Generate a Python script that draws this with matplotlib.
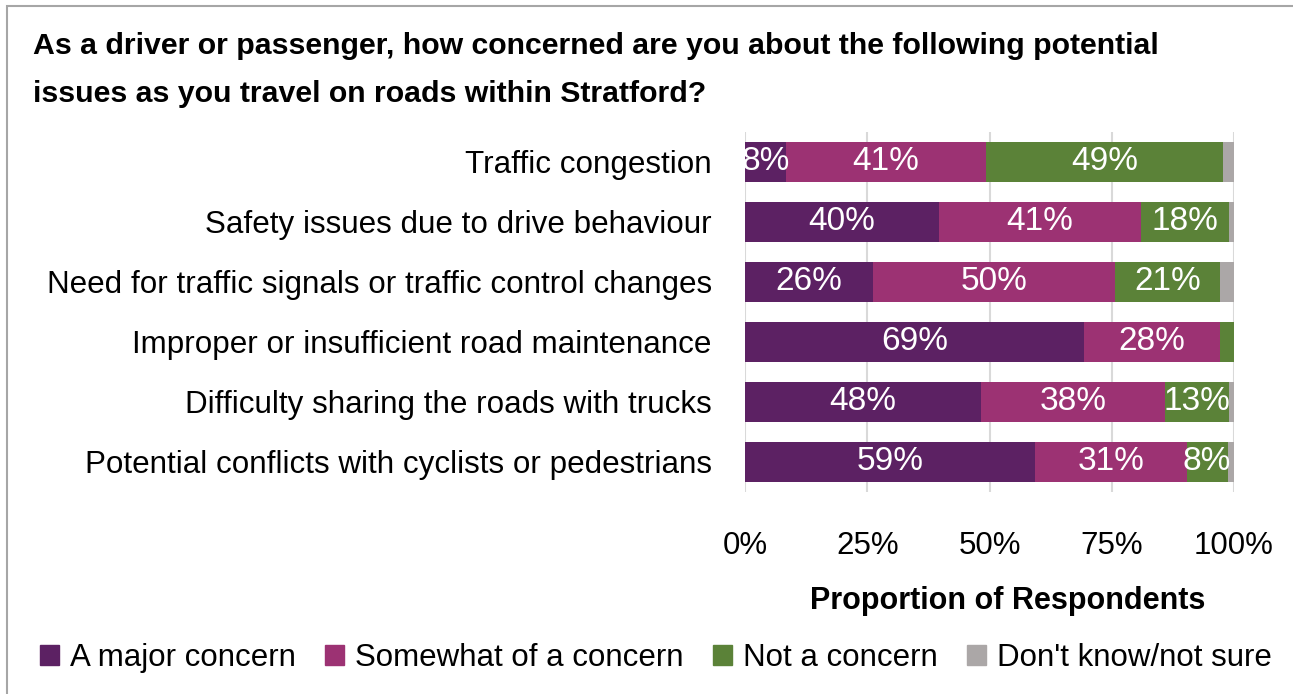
import matplotlib
matplotlib.use("Agg")
import matplotlib.pyplot as plt
from matplotlib.patches import Patch, Rectangle

plt.rcParams['font.family'] = ['Liberation Sans', 'DejaVu Sans']

# data (percent of respondents)
issues = ["Traffic congestion",
          "Safety issues due to drive behaviour",
          "Need for traffic signals or traffic control changes",
          "Improper or insufficient road maintenance",
          "Difficulty sharing the roads with trucks",
          "Potential conflicts with cyclists or pedestrians"]
major = [8.4, 39.6, 26.2, 69.4, 48.2, 59.4]
somewhat = [40.8, 41.3, 49.5, 27.7, 37.7, 30.9]
not_concern = [48.6, 18.1, 21.4, 2.9, 13.1, 8.4]
dont_know = [2.2, 1.0, 2.9, 0.0, 1.0, 1.3]

series = ["A major concern", "Somewhat of a concern", "Not a concern", "Don't know/not sure"]
colors = ["#5c2163", "#9c3273", "#5b8238", "#aba7a7"]
xticks = [0, 25, 50, 75, 100]

W, H = 1293, 694
fig = plt.figure(figsize=(W / 100, H / 100), dpi=100)
ax = fig.add_axes([745 / W, 1 - 492 / H, (1234 - 745) / W, 360 / H])

ypos = list(range(len(issues)))
left = [0.0] * len(issues)
for vals, col, name in zip([major, somewhat, not_concern, dont_know], colors, series):
    ax.barh(ypos, vals, left=left, height=0.68, color=col, label=name, zorder=2)
    if name != "Don't know/not sure":
        for y, v, l in zip(ypos, vals, left):
            if v >= 5:
                ax.text(l + v / 2, y, f"{round(v)}%", ha='center', va='center',
                        color='white', fontsize=24, zorder=3, clip_on=True)
    left = [a + b for a, b in zip(left, vals)]

ax.set_xlim(0, 100)
ax.set_ylim(len(issues) - 0.5, -0.5)
ax.set_yticks(ypos)
ax.set_yticklabels(issues, fontsize=22.6)
ax.set_xticks(xticks)
ax.set_xticklabels([f"{t}%" for t in xticks], fontsize=22.5)
ax.tick_params(length=0, pad=28)
ax.tick_params(axis='y', pad=24)
ax.xaxis.grid(True, color='#d9d9d9', linewidth=1.5, zorder=0)
ax.set_axisbelow(True)
for s in ax.spines.values():
    s.set_visible(False)
ax.set_xlabel("Proportion of Respondents", fontsize=22, fontweight='bold')
ax.xaxis.set_label_coords(0.538, -0.26)

fig.text(33 / W, 1 - 46 / H, "As a driver or passenger, how concerned are you about the following potential",
         fontsize=21.8, fontweight='bold', ha='left', va='center')
fig.text(33 / W, 1 - 94 / H, "issues as you travel on roads within Stratford?",
         fontsize=21.8, fontweight='bold', ha='left', va='center')

handles = [Patch(color=c) for c in colors]
fig.legend(handles, series, loc='center left', bbox_to_anchor=(40 / W, 1 - 658 / H),
           ncol=4, frameon=False, fontsize=22.5, handlelength=0.6, handleheight=0.65,
           handletextpad=0.35, columnspacing=0.95, borderaxespad=0, borderpad=0)

# light frame along the top and left edge
fig.patches.append(Rectangle((7 / W, -0.1), 1.2, 1 - 6 / H + 0.1, transform=fig.transFigure,
                             fill=False, edgecolor='#a6a6a6', linewidth=1.5))

fig.savefig("out.png", dpi=100)
